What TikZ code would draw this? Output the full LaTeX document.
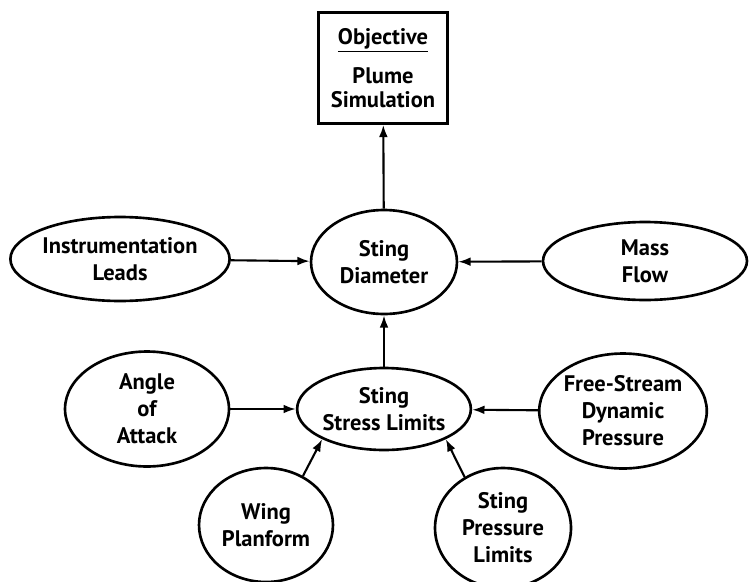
\documentclass[tikz,border=0pt]{standalone}
\usepackage{fontspec}
\setmainfont{PT Sans}
\usetikzlibrary{shapes.geometric,arrows.meta}

\tikzset{
  bubble/.style={draw, ellipse, line width=1.5pt, inner sep=0pt, align=center,
    font=\bfseries\fontsize{12.8}{15.3}\selectfont},
  goalbox/.style={draw, rectangle, line width=1.5pt, inner sep=0pt, align=center,
    minimum width=2.58cm, minimum height=2.22cm,
    font=\bfseries\fontsize{12.8}{13.6}\selectfont},
  feeds/.style={-{Latex[length=7pt,width=5pt]}, line width=1.2pt}
}

\begin{document}
\begin{tikzpicture}[x=0.02cm, y=-0.02cm]
    \useasboundingbox (0,0) rectangle (749,581);

    % Objetivo
    \node[goalbox] (obj) at (383,68) {\underline{Objective}\\[0.26cm] Plume\\Simulation};

    % Nodos principales
    \node[bubble, minimum width=2.92cm, minimum height=2.08cm] (diam) at (384,262) {Sting\\Diameter};
    \node[bubble, minimum width=3.2cm, minimum height=1.64cm] (stress) at (384,409) {Sting\\Stress Limits};

    % Factores
    \node[bubble, minimum width=4.32cm, minimum height=1.68cm] (instr) at (120,259) {Instrumentation\\Leads};
    \node[bubble, minimum width=4.08cm, minimum height=1.56cm] (mass) at (645,261) {Mass\\Flow};
    \node[bubble, minimum width=3.28cm, minimum height=2.3cm] (angle) at (147,409) {Angle\\of\\Attack};
    \node[bubble, minimum width=3.24cm, minimum height=2.3cm] (free) at (623,411) {Free-Stream\\Dynamic\\Pressure};
    \node[bubble, minimum width=2.68cm, minimum height=2.28cm] (wing) at (266,525) {Wing\\Planform};
    \node[bubble, minimum width=2.72cm, minimum height=2.4cm] (press) at (503,528) {Sting\\Pressure\\Limits};

    % Flechas
    \draw[feeds] (diam) -- (obj);
    \draw[feeds] (instr) -- (diam);
    \draw[feeds] (mass) -- (diam);
    \draw[feeds] (stress) -- (diam);
    \draw[feeds] (angle) -- (stress);
    \draw[feeds] (free) -- (stress);
    \draw[feeds] (wing.53) -- (stress.206);
    \draw[feeds] (press.127) -- (stress.334);
\end{tikzpicture}
\end{document}
